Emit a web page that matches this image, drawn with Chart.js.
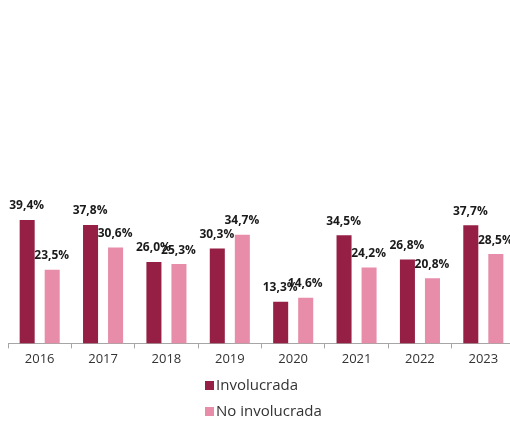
<!DOCTYPE html>
<html>
<head>
<meta charset="utf-8">
<script src="https://cdn.jsdelivr.net/npm/chart.js@4"></script>
<style>
html,body{margin:0;padding:0;background:#fff;overflow:hidden;}
#wrap{width:510px;height:421px;overflow:hidden;position:relative;}
#box{width:518px;height:421px;position:absolute;left:0;top:0;}
</style>
</head>
<body>
<div id="wrap"><div id="box"><canvas id="c"></canvas></div></div>
<script>
const categories = ["2016","2017","2018","2019","2020","2021","2022","2023"];
const involucrada = [39.4, 37.8, 26.0, 30.3, 13.3, 34.5, 26.8, 37.7];
const noInvolucrada = [23.5, 30.6, 25.3, 34.7, 14.6, 24.2, 20.8, 28.5];
const seriesNames = ["Involucrada", "No involucrada"];
const colors = ["#951F45", "#E78CA9"];

const fmt = v => v.toFixed(1).replace('.', ',') + '%';

const labelPlugin = {
  id: 'valueLabels',
  afterDatasetsDraw(chart) {
    const ctx = chart.ctx;
    ctx.save();
    ctx.font = 'bold 12px "Open Sans", sans-serif';
    ctx.fillStyle = '#1a1a1a';
    ctx.textAlign = 'center';
    ctx.textBaseline = 'middle';
    chart.data.datasets.forEach((ds, di) => {
      const meta = chart.getDatasetMeta(di);
      meta.data.forEach((bar, i) => {
        ctx.fillText(fmt(ds.data[i]), bar.x - 0.5, bar.y - 14);
      });
    });
    ctx.restore();
  }
};

const legendPlugin = {
  id: 'vertLegend',
  afterDraw(chart) {
    const ctx = chart.ctx;
    ctx.save();
    ctx.font = '15px "Open Sans", sans-serif';
    ctx.textBaseline = 'middle';
    ctx.textAlign = 'left';
    const ys = [385.5, 411.5];
    chart.data.datasets.forEach((ds, di) => {
      ctx.fillStyle = ds.backgroundColor;
      ctx.fillRect(205, ys[di] - 4.5, 9, 9);
      ctx.fillStyle = '#333333';
      ctx.fillText(ds.label, 216, ys[di] + 0.5);
    });
    ctx.restore();
  }
};

new Chart(document.getElementById('c'), {
  type: 'bar',
  data: {
    labels: categories,
    datasets: [
      { label: seriesNames[0], data: involucrada, backgroundColor: colors[0], categoryPercentage: 0.79, barPercentage: 0.6 },
      { label: seriesNames[1], data: noInvolucrada, backgroundColor: colors[1], categoryPercentage: 0.79, barPercentage: 0.6 }
    ]
  },
  options: {
    responsive: true,
    maintainAspectRatio: false,
    animation: false,
    layout: { padding: { left: 8, right: 3, top: 30, bottom: 51 } },
    plugins: { legend: { display: false }, tooltip: { enabled: false } },
    scales: {
      x: {
        grid: { display: true, drawOnChartArea: false, tickLength: 5, color: '#a6a6a6' },
        border: { display: true, color: '#a6a6a6', width: 1 },
        ticks: { color: '#333333', font: { family: '"Open Sans", sans-serif', size: 13 }, padding: 3 }
      },
      y: { display: false, min: 0, max: 100 }
    }
  },
  plugins: [labelPlugin, legendPlugin]
});
</script>
</body>
</html>
